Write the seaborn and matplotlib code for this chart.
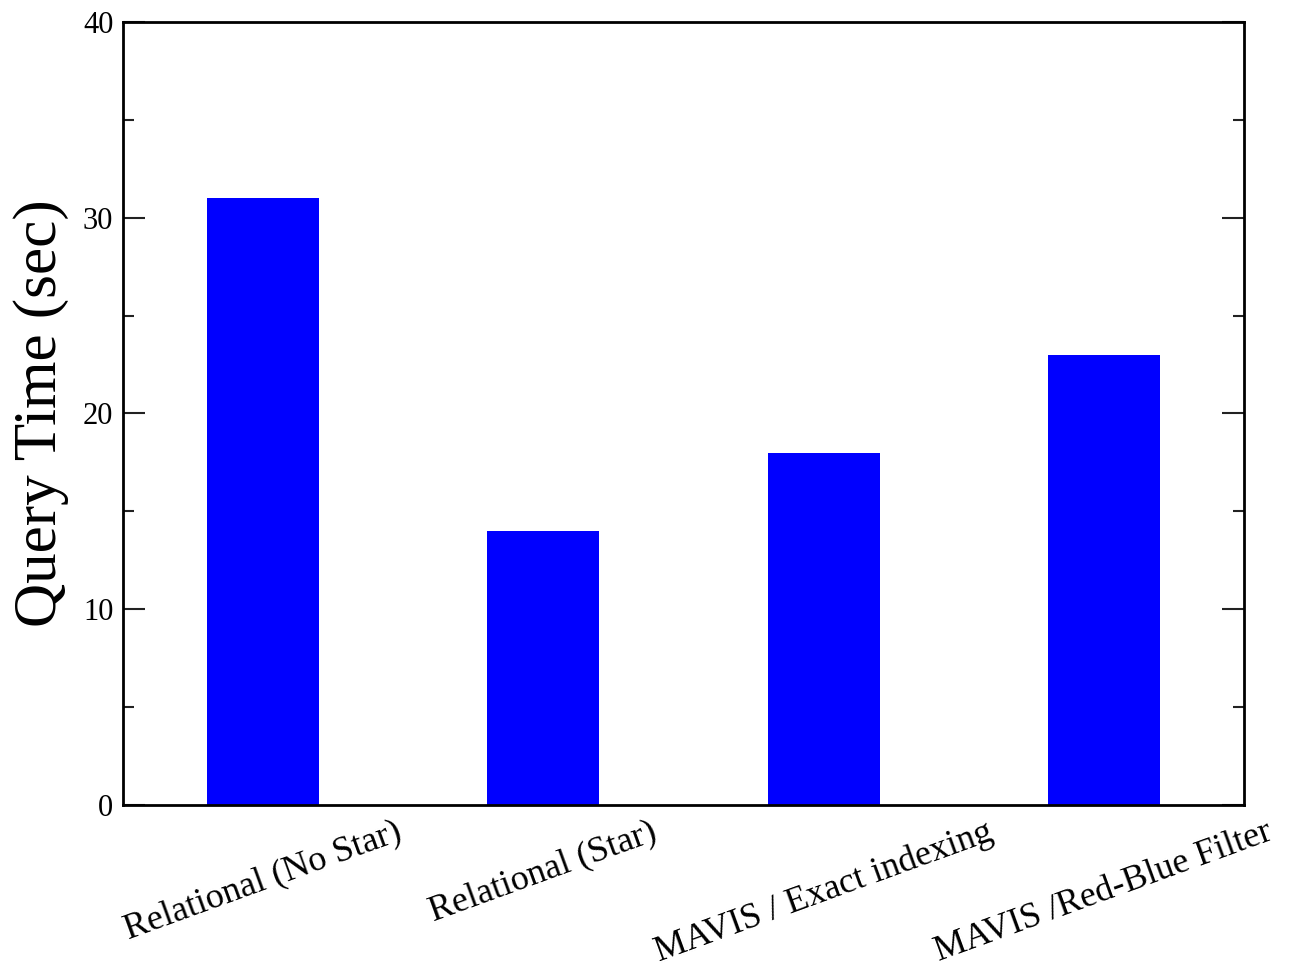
import matplotlib
matplotlib.use("Agg")
import matplotlib.pyplot as plt
from matplotlib.ticker import MultipleLocator
import pandas as pd
import seaborn as sns

# Query time of each approach
methods = [
    "Relational (No Star)",
    "Relational (Star)",
    "MAVIS / Exact indexing",
    "MAVIS /Red-Blue Filter",
]
query_times = [31, 14, 18, 23]
y_ticks = [0, 10, 20, 30, 40]

sns.set_style("ticks")
plt.rcParams["font.family"] = ["Liberation Serif", "DejaVu Serif"]
plt.rcParams["text.color"] = "black"
plt.rcParams["axes.labelcolor"] = "black"
plt.rcParams["xtick.color"] = "black"
plt.rcParams["ytick.color"] = "black"

df = pd.DataFrame({"method": methods, "time": query_times})

fig = plt.figure(figsize=(12.91, 9.68), dpi=100)
ax = fig.add_axes([0.0953, 0.1684, 0.8683, 0.8089])

sns.barplot(data=df, x="method", y="time", color="#0000ff", saturation=1,
            width=0.4, ax=ax, edgecolor="none")

ax.set_xlim(-0.5, 3.5)
ax.set_ylim(0, 40)
ax.set_yticks(y_ticks)
ax.yaxis.set_minor_locator(MultipleLocator(5))

for side in ["left", "right", "top", "bottom"]:
    ax.spines[side].set_visible(True)
    ax.spines[side].set_linewidth(2)
    ax.spines[side].set_color("black")

ax.tick_params(axis="y", which="major", direction="in", length=16, width=1.5,
               left=True, right=True, labelsize=22, pad=7,
               color="#222222", labelcolor="black")
ax.tick_params(axis="y", which="minor", direction="in", length=8, width=1.5,
               left=True, right=True, color="#222222")
ax.tick_params(axis="x", which="both", bottom=False, top=False,
               labelsize=26, pad=4, labelcolor="black")
plt.setp(ax.get_xticklabels(), rotation=20, ha="center")

ax.set_xlabel("")
ax.set_ylabel("Query Time (sec)", fontsize=44, labelpad=10, color="black")

fig.savefig("out.png", dpi=100, facecolor="white")
